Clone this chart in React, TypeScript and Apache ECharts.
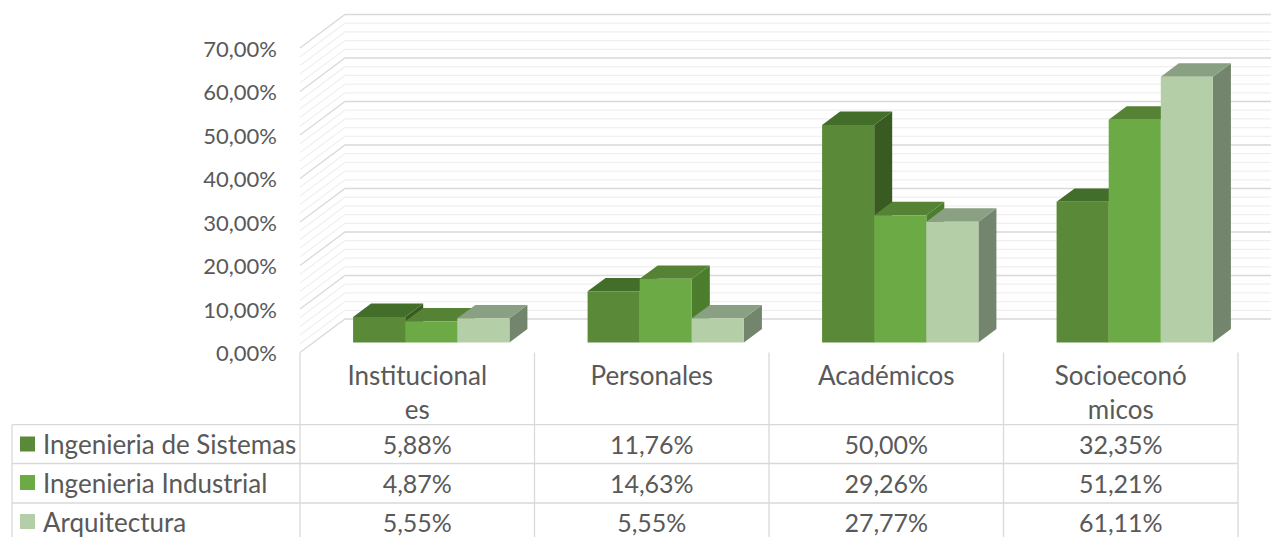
import React, { useEffect, useRef } from "react";
import * as echarts from "echarts";

const categories = ["Institucional\nes", "Personales", "Académicos", "Socioeconó\nmicos"];
const seriesNames = ["Ingenieria de Sistemas", "Ingenieria Industrial", "Arquitectura"];
const sistemas = [5.88, 11.76, 50.0, 32.35];
const industrial = [4.87, 14.63, 29.26, 51.21];
const arquitectura = [5.55, 5.55, 27.77, 61.11];
const minorGrid = [2, 4, 6, 8, 12, 14, 16, 18, 22, 24, 26, 28, 32, 34, 36, 38, 42, 44, 46, 48, 52, 54, 56, 58, 62, 64, 66, 68];
const majorGrid = [0, 10, 20, 30, 40, 50, 60, 70];

const FONT = "Lato";
const FS_AXIS = 22;
const FS_LABEL = 26;
const FS_CELL = 25;
const TEXT = "#595959";
const LINE = "#D9D9D9";
const WALL_X = 45;
const WALL_Y = 33.5;
const BAR_START_X = 14;
const BAR_START_Y = 10;
const BAR_DEPTH_X = 18;
const BAR_DEPTH_Y = 13.4;
const ROW_Y = [443.5, 482.5, 521.5];
const LEGEND_TOP = [431, 469.5, 508.5];

const palettes = [
  { front: "#5A8A38", top: "#436E2A", side: "#395B21" },
  { front: "#6CAA46", top: "#558235", side: "#4C7D2D" },
  { front: "#B4CFA7", top: "#89A082", side: "#74856D" },
];

const pct = (v: number) => v.toFixed(2).replace(".", ",") + "%";

const wallRenderer = (color: string, width: number) => (_p: any, api: any) => {
  const v = api.value(0);
  const a = api.coord([0, v]);
  const b = api.coord([1, v]);
  const band = b[0] - a[0];
  const left = a[0] - band / 2;
  const right = a[0] + band * (categories.length - 0.5) + WALL_X;
  return {
    type: "polyline",
    shape: { points: [[left, a[1]], [left + WALL_X, a[1] - WALL_Y], [right, a[1] - WALL_Y]] },
    style: { stroke: color, lineWidth: width, fill: "none" },
    silent: true,
  };
};

const barRenderer = (i: number) => (_p: any, api: any) => {
  const c = api.value(0);
  const v = api.value(1);
  const p = palettes[i];
  const top = api.coord([c, v]);
  const base = api.coord([c, 0]);
  const band = api.coord([1, 0])[0] - api.coord([0, 0])[0];
  const w = band / 4.5;
  const x0 = top[0] - 1.5 * w + i * w + BAR_START_X;
  const x1 = x0 + w;
  const yt = top[1] - BAR_START_Y;
  const yb = base[1] - BAR_START_Y;
  const dx = BAR_DEPTH_X;
  const dy = BAR_DEPTH_Y;
  return {
    type: "group",
    children: [
      { type: "polygon", shape: { points: [[x1, yt], [x1 + dx, yt - dy], [x1 + dx, yb - dy], [x1, yb]] }, style: { fill: p.side } },
      { type: "polygon", shape: { points: [[x0, yt], [x0 + dx, yt - dy], [x1 + dx, yt - dy], [x1, yt]] }, style: { fill: p.top } },
      { type: "rect", shape: { x: x0, y: yt, width: w, height: yb - yt }, style: { fill: p.front } },
    ],
  };
};

const cellRenderer = (_p: any, api: any) => {
  const c = api.value(0);
  const r = api.value(1);
  const x = api.coord([c, 0])[0];
  return {
    type: "text",
    x,
    y: ROW_Y[r],
    style: {
      text: pct(api.value(2)),
      fill: TEXT,
      font: `${FS_CELL}px ${FONT}`,
      align: "center",
      verticalAlign: "middle",
    },
    silent: true,
  };
};

const hLine = (x1: number, x2: number, y: number) => ({
  type: "line",
  shape: { x1, y1: y, x2, y2: y },
  style: { stroke: LINE, lineWidth: 1.3 },
  silent: true,
});
const vLine = (x: number, y1: number, y2: number) => ({
  type: "line",
  shape: { x1: x, y1, x2: x, y2 },
  style: { stroke: LINE, lineWidth: 1.3 },
  silent: true,
});

export default function App() {
  const ref = useRef<HTMLDivElement>(null);
  useEffect(() => {
    document.body.style.margin = "0";
    const chart = echarts.init(ref.current!, undefined, { renderer: "svg" });
    const values = [sistemas, industrial, arquitectura];
    const cells: number[][] = [];
    values.forEach((arr, r) => arr.forEach((v, c) => cells.push([c, r, v])));
    chart.setOption({
      animation: false,
      backgroundColor: "#fff",
      textStyle: { fontFamily: FONT },
      grid: { left: 300, right: 33, top: 48, bottom: 184.5, containLabel: false },
      xAxis: {
        type: "category",
        data: categories,
        axisLine: { show: false },
        axisTick: { show: false },
        splitLine: { show: false },
        axisLabel: {
          interval: 0,
          margin: 5,
          color: TEXT,
          fontFamily: FONT,
          fontSize: FS_LABEL,
          lineHeight: 34,
          verticalAlign: "top",
        },
      },
      yAxis: {
        type: "value",
        min: 0,
        max: 70,
        interval: 10,
        axisLine: { show: false },
        axisTick: { show: false },
        splitLine: { show: false },
        axisLabel: {
          margin: 23,
          color: TEXT,
          fontFamily: FONT,
          fontSize: FS_AXIS,
          formatter: (v: number) => pct(v),
        },
      },
      legend: seriesNames.map((name, i) => ({
        data: [name],
        orient: "vertical",
        left: 20,
        top: LEGEND_TOP[i],
        itemWidth: 15,
        itemHeight: 15,
        icon: "rect",
        selectedMode: false,
        textStyle: { color: TEXT, fontFamily: FONT, fontSize: FS_LABEL, lineHeight: 26, padding: [0, 0, 0, 3] },
        padding: 0,
      })),
      graphic: [
        hLine(12, 1238, 424.7),
        hLine(12, 1238, 463.5),
        hLine(12, 1238, 503),
        vLine(12, 424.7, 537),
        vLine(300, 352.5, 537),
        vLine(534.5, 352.5, 537),
        vLine(769, 352.5, 537),
        vLine(1003.5, 352.5, 537),
        vLine(1238, 352.5, 537),
      ],
      series: [
        { type: "custom", name: "minor", silent: true, data: minorGrid.map((v) => [v]), renderItem: wallRenderer("#F0F0F0", 1.3), z: 1 },
        { type: "custom", name: "major", silent: true, data: majorGrid.map((v) => [v]), renderItem: wallRenderer(LINE, 1.3), z: 1 },
        ...seriesNames.map((name, i) => ({
          type: "custom",
          name,
          silent: true,
          data: values[i].map((v, c) => [c, v]),
          encode: { x: 0, y: 1 },
          itemStyle: { color: palettes[i].front },
          renderItem: barRenderer(i),
          z: 2,
        })),
        { type: "custom", name: "table", silent: true, data: cells, renderItem: cellRenderer, z: 3 },
      ],
    });
    return () => chart.dispose();
  }, []);
  return <div ref={ref} style={{ position: "absolute", left: 0, top: 0, width: 1271, height: 537, overflow: "hidden" }} />;
}
